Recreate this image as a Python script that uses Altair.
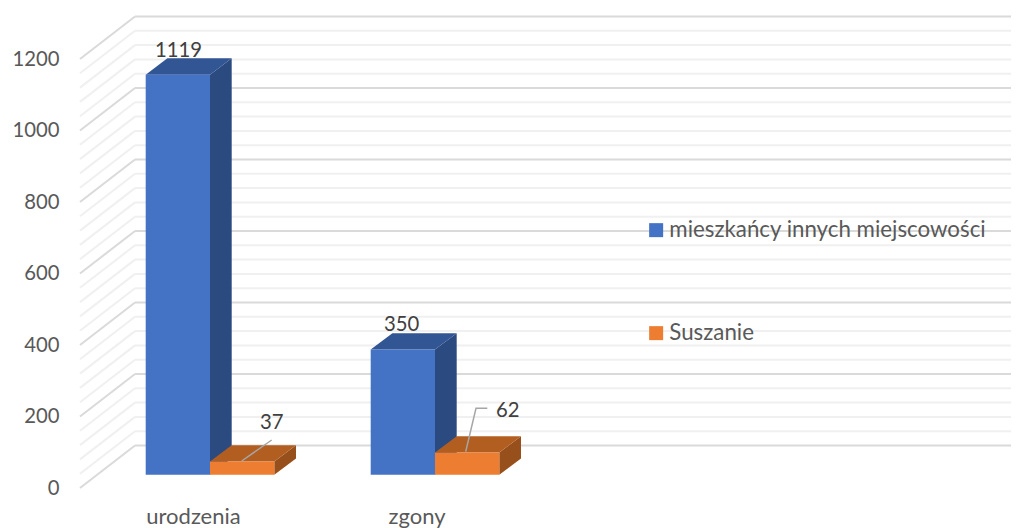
import altair as alt
import pandas as pd

# ---- chart values ----
categories = ["urodzenia", "zgony"]
series_names = ["mieszkańcy innych miejscowości", "Suszanie"]
series_values = [[1119, 350], [37, 62]]
axis_ticks = [0, 200, 400, 600, 800, 1000, 1200]
minor_step = 40

# ---- colours ----
front_colors = ["#4472C4", "#ED7D31"]
top_colors = ["#325594", "#B25E21"]
side_colors = ["#2B4A80", "#97501B"]
FONT = "Lato"

# ---- projection: x in page pixels, y in value units ----
PX_PER_UNIT = 0.3575
FLOOR_Y = 488.0


def val(page_y):
    return (FLOOR_Y - page_y) / PX_PER_UNIT


WALL_DX, WALL_DUNITS = 55.0, 42.5 / PX_PER_UNIT
WALL_LEFT, WALL_RIGHT = 80.0, 1011.0
BAR_W, BAR_DX, BAR_DUNITS = 64.3, 21.7, 16.3 / PX_PER_UNIT
BAR_BASE = val(474.7)
GROUP_LEFT = [145.7, 370.7]

xs = alt.Scale(domain=[8, 1011], range=[0, 1003], nice=False, zero=False)
ys = alt.Scale(domain=[val(528), val(8)], range=[520, 0], nice=False, zero=False)
y_axis = alt.Axis(
    values=axis_ticks,
    orient="left",
    offset=-51,
    domain=False,
    ticks=False,
    grid=False,
    title=None,
    format="d",
    labelPadding=0,
    labelFont=FONT,
    labelFontSize=20.3,
    labelColor="#595959",
    labelOverlap=False,
)
X = lambda f="x": alt.X(f"{f}:Q", scale=xs, axis=None)
Y = lambda f="y": alt.Y(f"{f}:Q", scale=ys, axis=y_axis)

# ---- gridlines ----
rows_back, rows_side = [], []
for v in range(0, 1200 + minor_step, minor_step):
    major = v in axis_ticks
    rows_back.append(dict(x=WALL_LEFT + WALL_DX, x2=WALL_RIGHT, y=v + WALL_DUNITS, major=major))
    rows_side.append(dict(id=v, x=WALL_LEFT, y=v, major=major))
    rows_side.append(dict(id=v, x=WALL_LEFT + WALL_DX, y=v + WALL_DUNITS, major=major))
back = pd.DataFrame(rows_back)
side = pd.DataFrame(rows_side)


def grid(major, color, width):
    b = alt.Chart(back[back.major == major]).mark_rule(color=color, strokeWidth=width).encode(
        x=X(), x2="x2:Q", y=Y()
    )
    s = alt.Chart(side[side.major == major]).mark_line(color=color, strokeWidth=width).encode(
        x=X(), y=Y(), detail="id:N"
    )
    return [b, s]


layers = grid(False, "#F0F0F0", 2) + grid(True, "#DADADA", 2)

# ---- 3-D bars ----
for s, name in enumerate(series_names):
    sides, tops, fronts = [], [], []
    for c, cat in enumerate(categories):
        left = GROUP_LEFT[c] + s * BAR_W
        right = left + BAR_W
        top = BAR_BASE + series_values[s][c]
        sides += [
            dict(cat=cat, x=right, y=BAR_BASE, y2=top),
            dict(cat=cat, x=right + BAR_DX, y=BAR_BASE + BAR_DUNITS, y2=top + BAR_DUNITS),
        ]
        tops += [
            dict(cat=cat, y=top, x=left, x2=right),
            dict(cat=cat, y=top + BAR_DUNITS, x=left + BAR_DX, x2=right + BAR_DX),
        ]
        fronts.append(dict(cat=cat, series=name, x=left, x2=right, y=BAR_BASE, y2=top))
    layers.append(
        alt.Chart(pd.DataFrame(sides)).mark_area(color=side_colors[s], orient="vertical").encode(
            x=X(), y=Y(), y2="y2:Q", detail="cat:N"
        )
    )
    layers.append(
        alt.Chart(pd.DataFrame(tops)).mark_area(color=top_colors[s], orient="horizontal").encode(
            y=Y(), x=X(), x2="x2:Q", detail="cat:N"
        )
    )
    layers.append(
        alt.Chart(pd.DataFrame(fronts)).mark_rect().encode(
            x=X(),
            x2="x2:Q",
            y=Y(),
            y2="y2:Q",
            color=alt.Color(
                "series:N",
                scale=alt.Scale(domain=series_names, range=front_colors),
                legend=alt.Legend(
                    orient="none",
                    legendX=637,
                    legendY=211,
                    title=None,
                    symbolType="square",
                    symbolSize=196,
                    symbolStrokeWidth=0,
                    labelFont=FONT,
                    labelFontSize=22.3,
                    labelColor="#595959",
                    labelLimit=400,
                    rowPadding=80,
                    labelOffset=2,
                ),
            ),
        )
    )

# ---- leader lines ----
leaders = pd.DataFrame(
    [
        dict(id="a", o=0, x=241.7, y=val(461)),
        dict(id="a", o=1, x=271.7, y=val(440)),
        dict(id="b", o=0, x=465.7, y=val(451.7)),
        dict(id="b", o=1, x=476.0, y=val(408.3)),
        dict(id="b", o=2, x=487.3, y=val(408.3)),
    ]
)
layers.append(
    alt.Chart(leaders).mark_line(color="#A6A6A6", strokeWidth=1.5).encode(
        x=X(), y=Y(), detail="id:N", order="o:Q"
    )
)

# ---- data labels ----
label_xy = [[(178.5, 50.5), (401.7, 324.5)], [(271.7, 422.5), (507.7, 410.5)]]
label_rows = []
for s in range(2):
    for c in range(2):
        lx, ly = label_xy[s][c]
        label_rows.append(dict(x=lx, y=val(ly), t=str(series_values[s][c])))
layers.append(
    alt.Chart(pd.DataFrame(label_rows))
    .mark_text(font=FONT, fontSize=20.3, color="#404040", align="center", baseline="middle")
    .encode(x=X(), y=Y(), text="t:N")
)

# ---- category labels ----
cat_x = [193.5, 417.0]
layers.append(
    alt.Chart(pd.DataFrame(dict(x=cat_x, y=[val(517)] * 2, t=categories)))
    .mark_text(font=FONT, fontSize=22, color="#595959", align="center", baseline="middle")
    .encode(x=X(), y=Y(), text="t:N")
)

chart = (
    alt.layer(*layers)
    .resolve_scale(color="shared")
    .properties(width=1003, height=520, padding=0, autosize=alt.AutoSizeParams(type="none"))
    .configure_view(stroke=None)
)
chart.save("out.html", embed_options={"renderer": "svg", "actions": False})
